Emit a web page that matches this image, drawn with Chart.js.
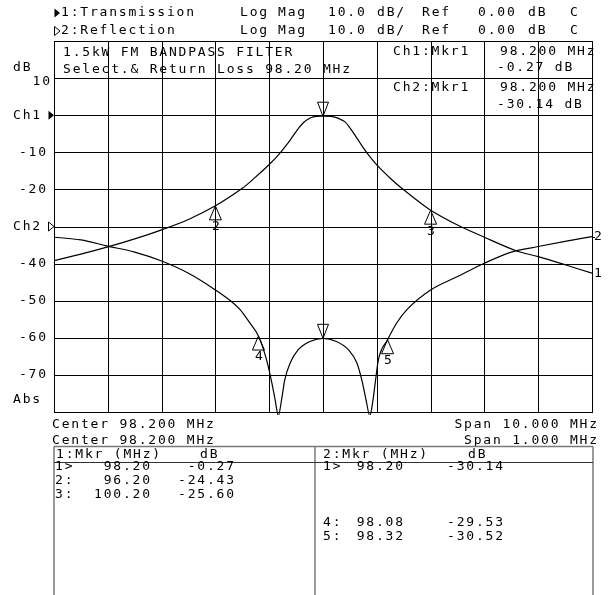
<!DOCTYPE html>
<html><head><meta charset="utf-8">
<script src="https://cdn.jsdelivr.net/npm/chart.js@4/dist/chart.umd.min.js"></script>
<style>html,body{margin:0;padding:0;background:#fff;overflow:hidden}canvas{display:block}</style>
</head><body>
<canvas id="c" width="609" height="595"></canvas>
<script>
// ---- Data ----
const ch1Freq = [93.2, 93.7, 94.2, 94.7, 95.2, 95.7, 96.2, 96.7, 96.93, 97.2, 97.4, 97.59, 97.72, 97.83, 97.96, 98.07, 98.2, 98.35, 98.45, 98.52, 98.61, 98.70, 98.80, 98.89, 99.01, 99.2, 99.45, 99.63, 99.91, 100.2, 100.7, 101.2, 101.8, 102.2, 102.7, 103.2];
const ch1Mag  = [-39.2, -37.45, -35.5, -33.35, -30.9, -28.1, -24.43, -19.7, -16.9, -13.3, -10.2, -6.7, -4.0, -2.1, -0.74, -0.33, -0.27, -0.33, -0.65, -1.1, -1.8, -3.4, -5.5, -7.5, -10.0, -13.4, -17.0, -19.3, -22.5, -25.6, -29.6, -32.9, -36.6, -38.1, -40.3, -42.6];
const ch2Freq = [97.70, 97.75, 97.80, 97.85, 97.90, 97.95, 98.00, 98.033, 98.046, 98.064, 98.080, 98.095, 98.105, 98.111, 98.117, 98.123, 98.129, 98.139, 98.154, 98.176, 98.200, 98.225, 98.247, 98.263, 98.272, 98.280, 98.287, 98.293, 98.297, 98.303, 98.320, 98.337, 98.356, 98.40, 98.45, 98.50, 98.55, 98.60, 98.65, 98.70];
const ch2Mag  = [-2.9, -3.6, -5.3, -6.9, -9.3, -12.6, -17.1, -20.6, -22.4, -26.0, -29.53, -35.9, -42.2, -46.7, -51.0, -46.7, -41.3, -36.8, -33.2, -31.0, -30.14, -31.0, -33.2, -36.8, -41.3, -46.7, -51.0, -46.7, -42.2, -35.9, -30.52, -26.0, -22.4, -17.1, -13.5, -9.9, -6.9, -5.4, -4.0, -2.7];

const ch1MarkerNum  = ['1', '2', '3'];
const ch1MarkerFreq = [98.20, 96.20, 100.20];
const ch1MarkerMag  = [-0.27, -24.43, -25.60];
const ch2MarkerNum  = ['1', '4', '5'];
const ch2MarkerFreq = [98.20, 98.08, 98.32];
const ch2MarkerMag  = [-30.14, -29.53, -30.52];

const centerMHz = [98.2, 98.2];
const spanMHz   = [10, 1];
const ch1Grid   = [93.2, 94.2, 95.2, 96.2, 97.2, 98.2, 99.2, 100.2, 101.2, 102.2, 103.2];
const gridDB    = [20, 10, 0, -10, -20, -30, -40, -50, -60, -70, -80];
const tickLabels = ['', '10', 'Ch1', '-10', '-20', 'Ch2', '-40', '-50', '-60', '-70', 'Abs'];
const ch2RefGrid = -30;   // Ch2 reference line position on the Ch1 grid
const traceNames = ['1:Transmission', '2:Reflection'];
const formatWords = ['Log', 'Mag', '10.0', 'dB/', 'Ref', '0.00', 'dB', 'C'];
const titleLines = ['1.5kW FM BANDPASS FILTER', 'Select.& Return Loss 98.20 MHz'];

// ---- Drawing helpers ----
const FONT = '13px "DejaVu Sans Mono", monospace';
const LS = 1.8;
function setFont(ctx){ ctx.font = FONT; try{ ctx.letterSpacing = LS + 'px'; }catch(e){} ctx.fillStyle = '#000'; ctx.textBaseline = 'middle'; }
function txt(ctx, s, x, y, align){
  ctx.textAlign = align || 'left';
  ctx.fillText(s, align === 'right' ? x + LS : x, y);
}
function crisp(v){ return Math.round(v) + 0.5; }

const bgPlugin = {
  id: 'bg',
  beforeDraw(chart){
    const ctx = chart.ctx; ctx.save(); ctx.fillStyle = '#fff';
    ctx.fillRect(0, 0, chart.width, chart.height); ctx.restore();
  }
};

const gridPlugin = {
  id: 'grid',
  beforeDatasetsDraw(chart){
    const ctx = chart.ctx, xs = chart.scales.x, ys = chart.scales.y, a = chart.chartArea;
    ctx.save(); ctx.strokeStyle = '#000'; ctx.lineWidth = 1;
    ctx.beginPath();
    ch1Grid.forEach(v => { const px = crisp(xs.getPixelForValue(v)); ctx.moveTo(px, crisp(a.top)); ctx.lineTo(px, crisp(a.bottom)); });
    gridDB.forEach(v => { const py = crisp(ys.getPixelForValue(v)); ctx.moveTo(crisp(a.left), py); ctx.lineTo(crisp(a.right), py); });
    ctx.stroke();
    ctx.restore();
  }
};

function triDown(ctx, x, y){ ctx.beginPath(); ctx.moveTo(x, y); ctx.lineTo(x - 5.5, y - 14); ctx.lineTo(x + 5.5, y - 14); ctx.closePath(); ctx.stroke(); }
function triUp(ctx, x, y){ ctx.beginPath(); ctx.moveTo(x, y); ctx.lineTo(x - 6, y + 14); ctx.lineTo(x + 6, y + 14); ctx.closePath(); ctx.stroke(); }
function arrowRight(ctx, x, y, filled){
  ctx.beginPath(); ctx.moveTo(x + 0.5, y - 4.5); ctx.lineTo(x + 0.5, y + 4.5); ctx.lineTo(x + 6, y); ctx.closePath();
  if (filled) ctx.fill(); else ctx.stroke();
}

const textPlugin = {
  id: 'texts',
  afterDraw(chart){
    const ctx = chart.ctx, a = chart.chartArea;
    const sx = chart.scales.x, sy = chart.scales.y, sx2 = chart.scales.x2, sy2 = chart.scales.y2;
    ctx.save(); setFont(ctx); ctx.strokeStyle = '#000'; ctx.lineWidth = 1;

    // header lines
    const hy = [13, 31];
    const wordX = [240, 278, 328, 377, 422, 478, 528, 570];
    traceNames.forEach((n, i) => {
      arrowRight(ctx, 54, hy[i], i === 0);
      txt(ctx, n, 61, hy[i]);
      formatWords.forEach((w, j) => txt(ctx, w, wordX[j], hy[i]));
    });

    // title inside graticule
    txt(ctx, titleLines[0], 63, 53);
    txt(ctx, titleLines[1], 63, 70);

    // marker readouts
    txt(ctx, 'Ch1:Mkr1', 393, 52);
    txt(ctx, ch1MarkerFreq[0].toFixed(3) + ' MHz', 500, 52);
    txt(ctx, ch1MarkerMag[0].toFixed(2) + ' dB', 497, 68);
    txt(ctx, 'Ch2:Mkr1', 393, 88);
    txt(ctx, ch2MarkerFreq[0].toFixed(3) + ' MHz', 500, 88);
    txt(ctx, ch2MarkerMag[0].toFixed(2) + ' dB', 497, 105);

    // left axis labels
    txt(ctx, 'dB', 13, 68);
    gridDB.forEach((v, i) => {
      const lab = tickLabels[i]; if (!lab) return;
      const py = sy.getPixelForValue(v);
      if (lab === 'Ch1' || lab === 'Ch2') {
        txt(ctx, lab, 13, py);
        arrowRight(ctx, 48, py, lab === 'Ch1');
      } else if (lab === 'Abs') {
        txt(ctx, lab, 13, py - 12);
      } else if (lab === '10') {
        txt(ctx, lab, 50, py + 4, 'right');
      } else {
        txt(ctx, lab, 46, py, 'right');
      }
    });

    // trace end labels
    const l1 = sy.getPixelForValue(ch1Mag[ch1Mag.length - 1]);
    const l2 = sy2.getPixelForValue(ch2Mag[ch2Mag.length - 1]);
    ctx.beginPath(); ctx.moveTo(a.right, crisp(l2)); ctx.lineTo(a.right + 3, crisp(l2)); ctx.stroke();
    txt(ctx, '2', 594, l2);
    txt(ctx, '1', 594, l1);

    // markers
    function drawMarkers(nums, fr, mg, xs, ys){
      nums.forEach((n, i) => {
        const px = xs.getPixelForValue(fr[i]), py = ys.getPixelForValue(mg[i]);
        if (i === 0) {
          triDown(ctx, px, py);
          ctx.beginPath(); ctx.moveTo(crisp(px), py - 25); ctx.lineTo(crisp(px), py - 15); ctx.stroke();
          ctx.fillRect(Math.round(px), py - 27, 1, 1);
        } else {
          triUp(ctx, px, py);
          txt(ctx, n, px - 3.5, py + 21);
        }
      });
    }
    drawMarkers(ch1MarkerNum, ch1MarkerFreq, ch1MarkerMag, sx, sy);
    drawMarkers(ch2MarkerNum, ch2MarkerFreq, ch2MarkerMag, sx2, sy2);

    // center / span
    txt(ctx, 'Center ' + centerMHz[0].toFixed(3) + ' MHz', 52, 425);
    txt(ctx, 'Span ' + spanMHz[0].toFixed(3) + ' MHz', 597, 425, 'right');
    txt(ctx, 'Center ' + centerMHz[1].toFixed(3) + ' MHz', 52, 441);
    txt(ctx, 'Span ' + spanMHz[1].toFixed(3) + ' MHz', 597, 441, 'right');

    // marker table
    const tTop = 446.5, tL = 54, tM = 315, tR = 593, tB = 595, sep = 462;
    ctx.strokeStyle = '#7a7a7a'; ctx.lineWidth = 1.5;
    ctx.beginPath();
    ctx.moveTo(tL, tTop); ctx.lineTo(tR, tTop);
    ctx.moveTo(tL, tTop); ctx.lineTo(tL, tB);
    ctx.moveTo(tM, tTop); ctx.lineTo(tM, tB);
    ctx.moveTo(tR, tTop); ctx.lineTo(tR, tB);
    ctx.stroke();
    ctx.strokeStyle = '#333'; ctx.lineWidth = 1;
    ctx.beginPath(); ctx.moveTo(tL, sep + 0.5); ctx.lineTo(tR, sep + 0.5); ctx.stroke();

    txt(ctx, '1:Mkr (MHz)', 56, 455); txt(ctx, 'dB', 200, 455);
    txt(ctx, '2:Mkr (MHz)', 323, 455); txt(ctx, 'dB', 468, 455);
    const rowY = [467, 481, 495];
    ch1MarkerNum.forEach((n, i) => {
      txt(ctx, n + (i === 0 ? '>' : ':'), 55, rowY[i]);
      txt(ctx, ch1MarkerFreq[i].toFixed(2), 150, rowY[i], 'right');
      txt(ctx, ch1MarkerMag[i].toFixed(2), 234, rowY[i], 'right');
    });
    const rowY2 = [467, 523, 537];
    ch2MarkerNum.forEach((n, i) => {
      txt(ctx, n + (i === 0 ? '>' : ':'), 323, rowY2[i]);
      txt(ctx, ch2MarkerFreq[i].toFixed(2), 403, rowY2[i], 'right');
      txt(ctx, ch2MarkerMag[i].toFixed(2), 503, rowY2[i], 'right');
    });

    // graticule border on top
    ctx.strokeStyle = '#000'; ctx.lineWidth = 1;
    ctx.strokeRect(crisp(a.left), crisp(a.top), Math.round(a.right) - Math.round(a.left), Math.round(a.bottom) - Math.round(a.top));
    ctx.restore();
  }
};

const ctx = document.getElementById('c').getContext('2d');
new Chart(ctx, {
  type: 'line',
  data: {
    datasets: [
      { label: 'Transmission', data: ch1Freq.map((f, i) => ({ x: f, y: ch1Mag[i] })), xAxisID: 'x', yAxisID: 'y',
        borderColor: '#000', borderWidth: 1.2, pointRadius: 0, tension: 0.3, clip: {left: 0, top: 0, right: 0, bottom: 3} },
      { label: 'Reflection', data: ch2Freq.map((f, i) => ({ x: f, y: ch2Mag[i] })), xAxisID: 'x2', yAxisID: 'y2',
        borderColor: '#000', borderWidth: 1.2, pointRadius: 0, cubicInterpolationMode: 'monotone', clip: {left: 0, top: 0, right: 0, bottom: 3} }
    ]
  },
  options: {
    responsive: false, animation: false, devicePixelRatio: 1, events: [],
    layout: { padding: { left: 54, top: 41, right: 17, bottom: 183 } },
    plugins: { legend: { display: false }, tooltip: { enabled: false } },
    scales: {
      x:  { type: 'linear', display: false, min: centerMHz[0] - spanMHz[0] / 2, max: centerMHz[0] + spanMHz[0] / 2 },
      x2: { type: 'linear', display: false, min: centerMHz[1] - spanMHz[1] / 2, max: centerMHz[1] + spanMHz[1] / 2 },
      y:  { type: 'linear', display: false, min: -80, max: 20 },
      y2: { type: 'linear', display: false, min: -80 - ch2RefGrid, max: 20 - ch2RefGrid }
    }
  },
  plugins: [bgPlugin, gridPlugin, textPlugin]
});
</script>
</body></html>
